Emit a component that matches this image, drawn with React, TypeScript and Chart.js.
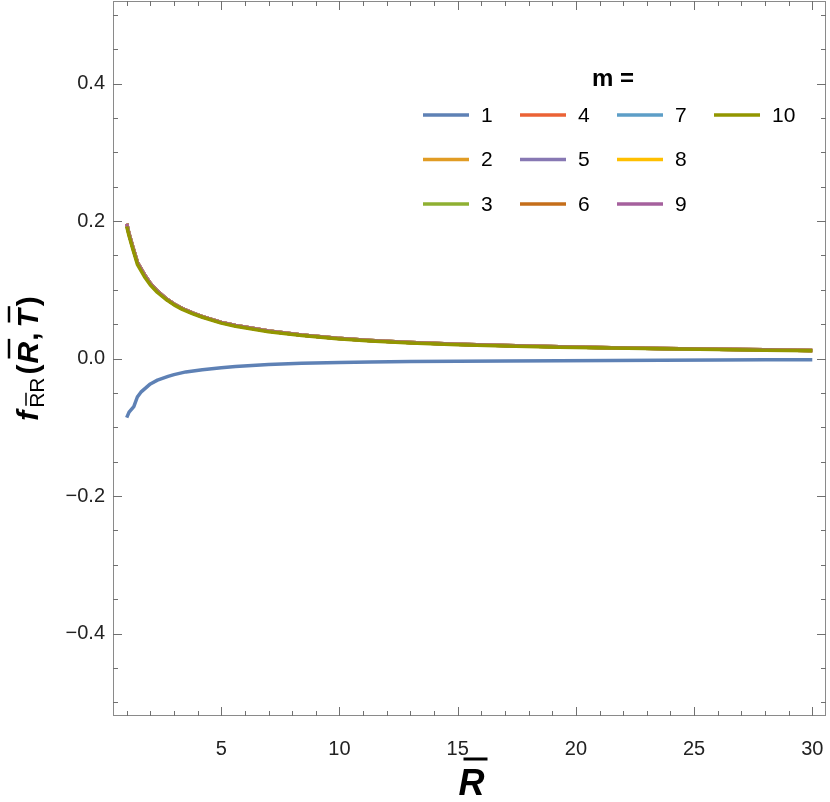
import React, { useEffect, useRef } from "react";
import { Chart, registerables } from "chart.js";

Chart.register(...registerables);

// ---- data ----
const mLabels = ["1", "2", "3", "4", "5", "6", "7", "8", "9", "10"];
const mColors = [
  "#5E81B5", "#E19C24", "#8FB032", "#EB6235", "#8778B3",
  "#C56E1A", "#5D9EC7", "#FFBF00", "#A5609D", "#929600",
];

// m = 1 curve
const rM1 = [1, 1.1, 1.3, 1.45, 1.6, 2.0, 2.3, 2.75, 3.0, 3.5, 4.2, 5.0, 5.6, 7.0, 8.4, 10, 11.3, 13, 15, 17, 19.3, 21.5, 23.6, 26, 28, 30];
const fM1 = [-0.086, -0.078, -0.070, -0.056, -0.049, -0.037, -0.0315, -0.026, -0.0235, -0.0195, -0.0163, -0.0135, -0.0117, -0.0088, -0.0070, -0.0057, -0.0050, -0.0045, -0.0041, -0.0037, -0.0033, -0.0028, -0.0024, -0.0021, -0.0019, -0.0018];

// m = 2 ... 10 curves (practically coincide)
const rUpper = [1, 1.1, 1.25, 1.45, 1.75, 2.0, 2.3, 2.7, 3.0, 3.35, 3.8, 4.2, 5.0, 5.6, 7.0, 8.4, 9.9, 11.3, 13, 15, 17, 19.3, 21.5, 23.6, 26, 28, 30];
const fM2to9 = [0.1960, 0.1810, 0.1630, 0.1400, 0.1220, 0.1090, 0.0980, 0.0862, 0.0792, 0.0727, 0.0660, 0.0610, 0.0525, 0.0480, 0.0399, 0.0343, 0.0296, 0.0263, 0.0233, 0.0207, 0.0188, 0.0171, 0.0158, 0.0147, 0.0136, 0.0127, 0.0118];
const fM10 = [0.192, 0.178, 0.160, 0.137, 0.119, 0.107, 0.096, 0.085, 0.078, 0.0715, 0.065, 0.060, 0.0515, 0.047, 0.039, 0.0335, 0.0288, 0.0255, 0.0225, 0.0200, 0.0182, 0.0165, 0.0152, 0.0141, 0.0130, 0.0121, 0.0112];

const xTickValues = [5, 10, 15, 20, 25, 30];
const yTickValues = [-0.4, -0.2, 0, 0.2, 0.4];
const yTickLabels = ["\u22120.4", "\u22120.2", "0.0", "0.2", "0.4"];
const xRange = [0.42, 30.58];
const yRange = [-0.52, 0.52];

const FONT = '"Liberation Sans", Arial, sans-serif';

function pts(xs: number[], ys: number[]) {
  return xs.map((x, i) => ({ x, y: ys[i] }));
}

const decorPlugin = {
  id: "decor",
  afterDraw(chart: any) {
    const { ctx, chartArea: a, scales } = chart;
    const xs = scales.x;
    const ys = scales.y;
    ctx.save();
    // frame
    ctx.strokeStyle = "#8a8a8a";
    ctx.lineWidth = 1;
    ctx.strokeRect(a.left + 0.5, a.top + 0.5, a.right - a.left - 1, a.bottom - a.top - 1);
    // inward ticks
    ctx.strokeStyle = "#707070";
    ctx.beginPath();
    for (let v = 1; v <= 30; v++) {
      const px = Math.round(xs.getPixelForValue(v)) + 0.5;
      const len = v % 5 === 0 ? 9 : 5;
      ctx.moveTo(px, a.bottom);
      ctx.lineTo(px, a.bottom - len);
      ctx.moveTo(px, a.top);
      ctx.lineTo(px, a.top + len);
    }
    for (let k = -10; k <= 10; k++) {
      const py = Math.round(ys.getPixelForValue(k * 0.05)) + 0.5;
      const len = k % 4 === 0 ? 9 : 5;
      ctx.moveTo(a.left, py);
      ctx.lineTo(a.left + len, py);
      ctx.moveTo(a.right, py);
      ctx.lineTo(a.right - len, py);
    }
    ctx.stroke();

    // legend
    ctx.fillStyle = "#000";
    ctx.textAlign = "center";
    ctx.textBaseline = "middle";
    ctx.font = `bold 24px ${FONT}`;
    ctx.fillText("m =", 613, 79);
    ctx.font = `21px ${FONT}`;
    ctx.textAlign = "left";
    chart.data.datasets.forEach((ds: any, i: number) => {
      const col = Math.floor(i / 3);
      const row = i % 3;
      const x0 = 423 + col * 97;
      const y0 = 115 + row * 44.5;
      ctx.strokeStyle = ds.borderColor;
      ctx.lineWidth = 3.5;
      ctx.beginPath();
      ctx.moveTo(x0, y0);
      ctx.lineTo(x0 + 46, y0);
      ctx.stroke();
      ctx.fillStyle = "#000";
      ctx.fillText(ds.label, x0 + 58, y0 + 1);
    });

    // x axis title: R with overline
    ctx.textBaseline = "alphabetic";
    ctx.font = `italic bold 36px ${FONT}`;
    ctx.textAlign = "left";
    const rw = ctx.measureText("R").width;
    const xc = (a.left + a.right) / 2 + 2;
    const xb = 795;
    ctx.fillText("R", xc - rw / 2, xb);
    ctx.lineWidth = 3;
    ctx.strokeStyle = "#000";
    ctx.beginPath();
    ctx.moveTo(xc - rw / 2 + 5, xb - 36);
    ctx.lineTo(xc + rw / 2 + 3, xb - 36);
    ctx.stroke();

    // y axis title: f_{R̄R}(R̄, T̄)
    ctx.save();
    ctx.translate(38, (a.top + a.bottom) / 2);
    ctx.rotate(-Math.PI / 2);
    const big = `italic bold 30px ${FONT}`;
    const bigUp = `bold 30px ${FONT}`;
    const sub = `21px ${FONT}`;
    const parts: { t: string; f: string; dy: number; bar?: boolean; gap?: number }[] = [
      { t: "f", f: big, dy: 0, gap: 3 },
      { t: "R", f: sub, dy: 6, bar: true },
      { t: "R", f: sub, dy: 6, gap: 3 },
      { t: "(", f: bigUp, dy: 0, gap: 1 },
      { t: "R", f: big, dy: 0, bar: true, gap: 1 },
      { t: ",", f: bigUp, dy: 0, gap: 5 },
      { t: "T", f: big, dy: 0, bar: true, gap: 3 },
      { t: ")", f: bigUp, dy: 0 },
    ];
    let total = 0;
    const widths = parts.map((p) => {
      ctx.font = p.f;
      const w = ctx.measureText(p.t).width + (p.gap || 0);
      total += w;
      return w;
    });
    let cx = -total / 2;
    parts.forEach((p, i) => {
      ctx.font = p.f;
      ctx.fillText(p.t, cx, p.dy);
      if (p.bar) {
        const w = widths[i] - (p.gap || 0);
        const isSub = p.f === sub;
        const h = isSub ? 18 : 29;
        ctx.lineWidth = isSub ? 1.5 : 2.5;
        ctx.beginPath();
        ctx.moveTo(cx + (isSub ? 2 : 5), p.dy - h);
        ctx.lineTo(cx + w + (isSub ? 0 : 3), p.dy - h);
        ctx.stroke();
      }
      cx += widths[i];
    });
    ctx.restore();
    ctx.restore();
  },
};

function zeroPad(s: any) {
  s.paddingTop = 0;
  s.paddingBottom = 0;
  s.paddingLeft = 0;
  s.paddingRight = 0;
}

export default function App() {
  const ref = useRef<HTMLCanvasElement | null>(null);
  useEffect(() => {
    if (!ref.current) return;
    const series = [
      pts(rM1, fM1),
      ...[0, 1, 2, 3, 4, 5, 6, 7].map(() => pts(rUpper, fM2to9)),
      pts(rUpper, fM10),
    ];
    const chart = new Chart(ref.current, {
      type: "line",
      data: {
        datasets: series.map((d, i) => ({
          label: mLabels[i],
          data: d,
          borderColor: mColors[i],
          backgroundColor: mColors[i],
          borderWidth: 3.5,
          pointRadius: 0,
          tension: 0,
          fill: false,
          order: 9 - i,
          borderJoinStyle: "round",
        })),
      },
      options: {
        animation: false,
        responsive: false,
        devicePixelRatio: 1,
        layout: { padding: { top: 1, right: 4, left: 0, bottom: 0 } },
        plugins: { legend: { display: false }, tooltip: { enabled: false } },
        scales: {
          x: {
            type: "linear",
            min: xRange[0],
            max: xRange[1],
            grid: { display: false, drawTicks: false },
            border: { display: false },
            ticks: {
              color: "#222",
              font: { size: 20, family: FONT },
              padding: 21,
              maxRotation: 0,
              callback: (v: any) => String(v),
            },
            afterBuildTicks: (s: any) => {
              s.ticks = xTickValues.map((v) => ({ value: v }));
            },
            afterFit: (s: any) => {
              s.height = 86;
              zeroPad(s);
            },
          },
          y: {
            type: "linear",
            min: yRange[0],
            max: yRange[1],
            grid: { display: false, drawTicks: false },
            border: { display: false },
            ticks: {
              color: "#222",
              font: { size: 20, family: FONT },
              padding: 8,
              callback: (v: any) => {
                const idx = yTickValues.findIndex((t) => Math.abs(t - v) < 1e-9);
                return idx >= 0 ? yTickLabels[idx] : "";
              },
            },
            afterBuildTicks: (s: any) => {
              s.ticks = yTickValues.map((v) => ({ value: v }));
            },
            afterFit: (s: any) => {
              s.width = 113;
              zeroPad(s);
            },
          },
        },
      },
      plugins: [decorPlugin],
    });
    return () => chart.destroy();
  }, []);
  return (
    <div style={{ position: "absolute", left: 0, top: 0, width: 830, height: 802, background: "#fff" }}>
      <canvas ref={ref} width={830} height={802} style={{ display: "block" }} />
    </div>
  );
}
